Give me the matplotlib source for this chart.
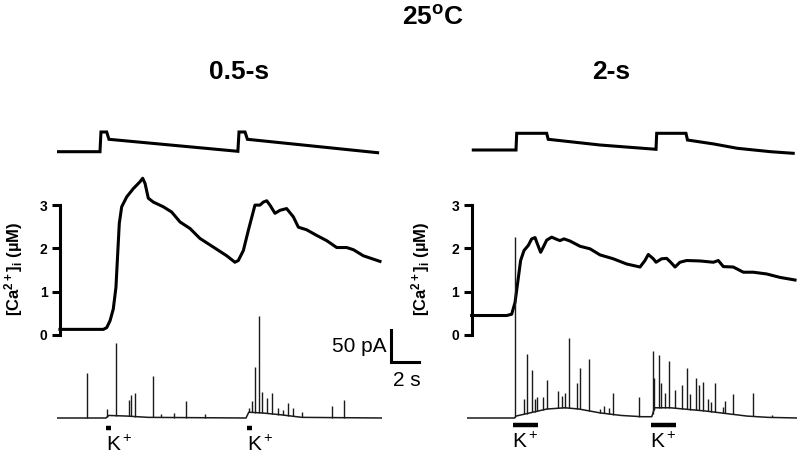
import numpy as np
import matplotlib.pyplot as plt

plt.rcParams['font.family'] = ['Liberation Sans', 'DejaVu Sans']
plt.rcParams['mathtext.fontset'] = 'custom'
plt.rcParams['mathtext.rm'] = 'Liberation Sans'
plt.rcParams['mathtext.it'] = 'Liberation Sans:italic'
plt.rcParams['mathtext.bf'] = 'Liberation Sans:bold'

W, H = 800, 459

# ---------- 0.5-s protocol (left) ----------
# membrane potential, relative units
vL_t = [0.1, 3.07, 3.14, 3.55, 3.71, 12.92, 13.0, 13.43, 13.6, 22.9]
vL = [0.3, 0.3, 20, 20, 12.7, 0.7, 20, 20, 12.7, -0.7]
# [Ca2+]i in uM
caL_t = [0.21, 3.31, 3.55, 3.79, 4.02, 4.21, 4.31, 4.45, 4.62, 4.98, 5.45, 5.93, 6.12, 6.29, 6.52,
         6.88, 7.6, 8.19, 8.79, 9.5, 10.21, 11.17, 12.12, 12.71, 12.95, 13.31, 13.67, 14.14, 14.5,
         14.74, 14.98, 15.21, 15.57, 15.93, 16.4, 16.88, 17.24, 17.83, 18.55, 19.26, 19.98, 20.69,
         21.17, 21.88, 23.07]
caL = [0.13, 0.13, 0.17, 0.33, 0.6, 1.1, 1.72, 2.58, 2.96, 3.19, 3.38, 3.54, 3.62, 3.5, 3.16,
       3.07, 2.96, 2.84, 2.61, 2.46, 2.23, 2.03, 1.83, 1.68, 1.72, 1.95, 2.42, 3.0, 3.0,
       3.07, 3.1, 3.0, 2.81, 2.88, 2.92, 2.73, 2.49, 2.43, 2.3, 2.18, 2.02, 2.02,
       1.97, 1.83, 1.7]
# membrane current (pA): slow baseline + STOC peaks
iL_base_t = [0, 3.5, 3.7, 5.0, 6.5, 13.5, 13.7, 14.6, 16.0, 17.5, 23.2]
iL_base = [0, 0, 4, 3, 1, 0, 9, 8, 5, 1, 0]
iL_spk_t = [2.12, 3.59, 4.19, 5.16, 5.29, 5.57, 6.84, 7.4, 8.36, 9.19, 10.57, 13.74, 13.9, 14.14,
            14.43, 14.66, 14.98, 15.38, 15.81, 16.12, 16.52, 16.84, 17.48, 19.62, 20.52]
iL_spk = [70, 14, 117, 28, 36, 39, 66, 6, 8, 27, 6, 16, 27, 80,
          159, 41, 31, 39, 16, 12, 23, 16, 9, 19, 28]
kL_on = [3.48, 13.55]
kL_dur = 0.4

# ---------- 2-s protocol (right) ----------
vR_t = [0.45, 3.5, 3.55, 5.69, 5.8, 9.5, 13.5, 13.55, 15.64, 15.75, 17.64, 19.31, 21.69, 23.3]
vR = [2, 2, 18.7, 18.7, 12.7, 7, 2.7, 18.7, 18.7, 12, 8, 3.7, 0.3, -1.3]
caR_t = [0.33, 2.83, 3.19, 3.43, 3.67, 3.83, 4.07, 4.38, 4.62, 4.86, 5.02, 5.26, 5.45, 5.69, 6.05,
         6.4, 6.64, 6.93, 7.36, 8.07, 8.79, 9.5, 10.45, 11.4, 12.36, 12.71, 12.95, 13.31, 13.5, 13.9,
         14.26, 14.55, 14.86, 15.21, 15.69, 16.64, 17.6, 17.95, 18.31, 19.02, 19.74, 20.45, 21.4,
         22.36, 23.43]
caR = [0.45, 0.45, 0.48, 0.75, 1.33, 1.72, 1.95, 2.07, 2.22, 2.25, 2.11, 1.91, 2.03, 2.19, 2.26,
       2.21, 2.18, 2.22, 2.17, 2.05, 1.99, 1.85, 1.76, 1.64, 1.57, 1.72, 1.86, 1.76, 1.68, 1.76,
       1.77, 1.68, 1.57, 1.68, 1.72, 1.71, 1.68, 1.72, 1.58, 1.57, 1.45, 1.45, 1.41,
       1.33, 1.27]
iR_base_t = [0, 3.4, 3.5, 4.5, 5.7, 7.0, 8.0, 9.5, 11.0, 12.5, 13.2, 13.4, 14.5, 15.5, 17.0, 18.5,
             20.0, 21.5, 23.6]
iR_base = [0, 0, 3, 8, 14, 16, 14, 8, 4, 2, 2, 16, 16, 14, 11, 7, 3, 1, 0]
iR_spk_t = [3.43, 4.07, 4.29, 4.62, 4.84, 4.98, 5.41, 5.69, 6.52, 6.76, 7.0, 7.29, 7.88, 8.07, 8.69,
            9.5, 9.79, 10.16, 10.45, 12.29, 13.26, 13.36, 13.69, 13.84, 14.16, 14.45, 14.84, 15.34,
            15.71, 15.93, 16.36, 16.57, 16.88, 17.24, 17.41, 17.69, 18.26, 18.45, 19.0, 20.41, 21.76]
iR_spk = [283, 30, 100, 75, 30, 33, 33, 59, 42, 34, 39, 125, 55, 78, 92,
          14, 19, 16, 39, 33, 105, 63, 98, 55, 39, 89, 44, 52,
          78, 38, 63, 52, 56, 30, 25, 55, 17, 27, 38, 39, 5]
kR_on = [3.26, 13.12]
kR_dur = 1.8

scale_pA = 50
scale_s = 2

PX_PER_S = 14.0     # horizontal scale of the traces
PX_PER_UM = 43.3    # Ca axis
PA_PER_PX = 50 / 32.0

def rect(l, t, r, b):
    return [l / W, 1 - b / H, (r - l) / W, (b - t) / H]

fig = plt.figure(figsize=(8, 4.59), dpi=100)

def panel(x0, x1, v_t, v, ca_t, ca, b_t, b, s_t, s, k_on, k_dur, k_px, i_top, k_ha):
    tmax = (x1 - x0) / PX_PER_S
    # voltage
    av = fig.add_axes(rect(x0, 120, x1, 165))
    av.plot(v_t, v, color='black', lw=2.2, solid_joinstyle='miter')
    av.set_xlim(0, tmax)
    av.set_ylim(-13, 32)
    av.axis('off')
    # calcium
    ac = fig.add_axes(rect(x0, 170, x1, 335))
    ac.patch.set_alpha(0)
    ac.plot(ca_t, ca, color='black', lw=2.2)
    ac.set_xlim(0, tmax)
    ac.set_ylim(0, (335 - 170) / PX_PER_UM)
    for sp in ['top', 'right', 'bottom']:
        ac.spines[sp].set_visible(False)
    ac.spines['left'].set_position(('data', ca_t[0]))
    ac.spines['left'].set_bounds(0, 3)
    ac.spines['left'].set_linewidth(2.2)
    ac.set_xticks([])
    ac.set_yticks([0, 1, 2, 3])
    ac.tick_params(axis='y', direction='out', length=6, width=2.2, labelsize=10, pad=3)
    for lb in ac.get_yticklabels():
        lb.set_fontweight('bold')
    # current
    ai = fig.add_axes(rect(x0, i_top, x1, 440))
    ai.patch.set_alpha(0)
    ai.plot(b_t, b, color='#1a1a1a', lw=1.1)
    ai.vlines(s_t, np.interp(s_t, b_t, b), s, color='#1a1a1a', lw=1.0)
    ai.set_xlim(0, tmax)
    ai.set_ylim(-(440 - 418) * PA_PER_PX, (418 - i_top) * PA_PER_PX)
    ai.axis('off')
    ky = (418 - k_px) * PA_PER_PX
    for on in k_on:
        ai.plot([on, on + k_dur], [ky, ky], color='black', lw=3.2, solid_capstyle='butt')
        tx = on if k_ha == 'left' else on + k_dur / 2
        ai.text(tx, ky - 17 * PA_PER_PX, r'K$^+$', fontsize=15, ha=k_ha, va='center')
    return ai

aiL = panel(57, 382, vL_t, vL, caL_t, caL, iL_base_t, iL_base, iL_spk_t, iL_spk,
            kL_on, kL_dur, 428, 300, 'left')
panel(467, 797, vR_t, vR, caR_t, caR, iR_base_t, iR_base, iR_spk_t, iR_spk,
      kR_on, kR_dur, 425, 225, 'center')

# scale bar (in left current axes)
sx = (391 - 57) / PX_PER_S
sy = (418 - 362) * PA_PER_PX
aiL.plot([sx, sx, sx + scale_s], [sy + scale_pA, sy, sy], color='black', lw=2.2,
         clip_on=False, solid_joinstyle='miter')
aiL.text(sx - 0.35, sy + scale_pA / 2, '%d pA' % scale_pA, fontsize=15, ha='right', va='center')
aiL.text(sx + scale_s / 2 + 0.15, sy - 19 * PA_PER_PX, '%d s' % scale_s, fontsize=15,
         ha='center', va='center')

# titles and y labels
fig.text(433 / W, 1 - 18 / H, r'25$^{\mathbf{o}}$C', fontsize=19, fontweight='bold',
         ha='center', va='center')
fig.text(239 / W, 1 - 72 / H, '0.5-s', fontsize=19, fontweight='bold', ha='center', va='center')
fig.text(611 / W, 1 - 72 / H, '2-s', fontsize=19, fontweight='bold', ha='center', va='center')
for xl in [14, 421]:
    fig.text(xl / W, 1 - 269 / H, r'[Ca$^{\mathbf{2+}}$]$_{\mathbf{i}}$ (µM)', fontsize=12,
             fontweight='bold', rotation=90, ha='center', va='center')

fig.savefig('out.png', dpi=100)
